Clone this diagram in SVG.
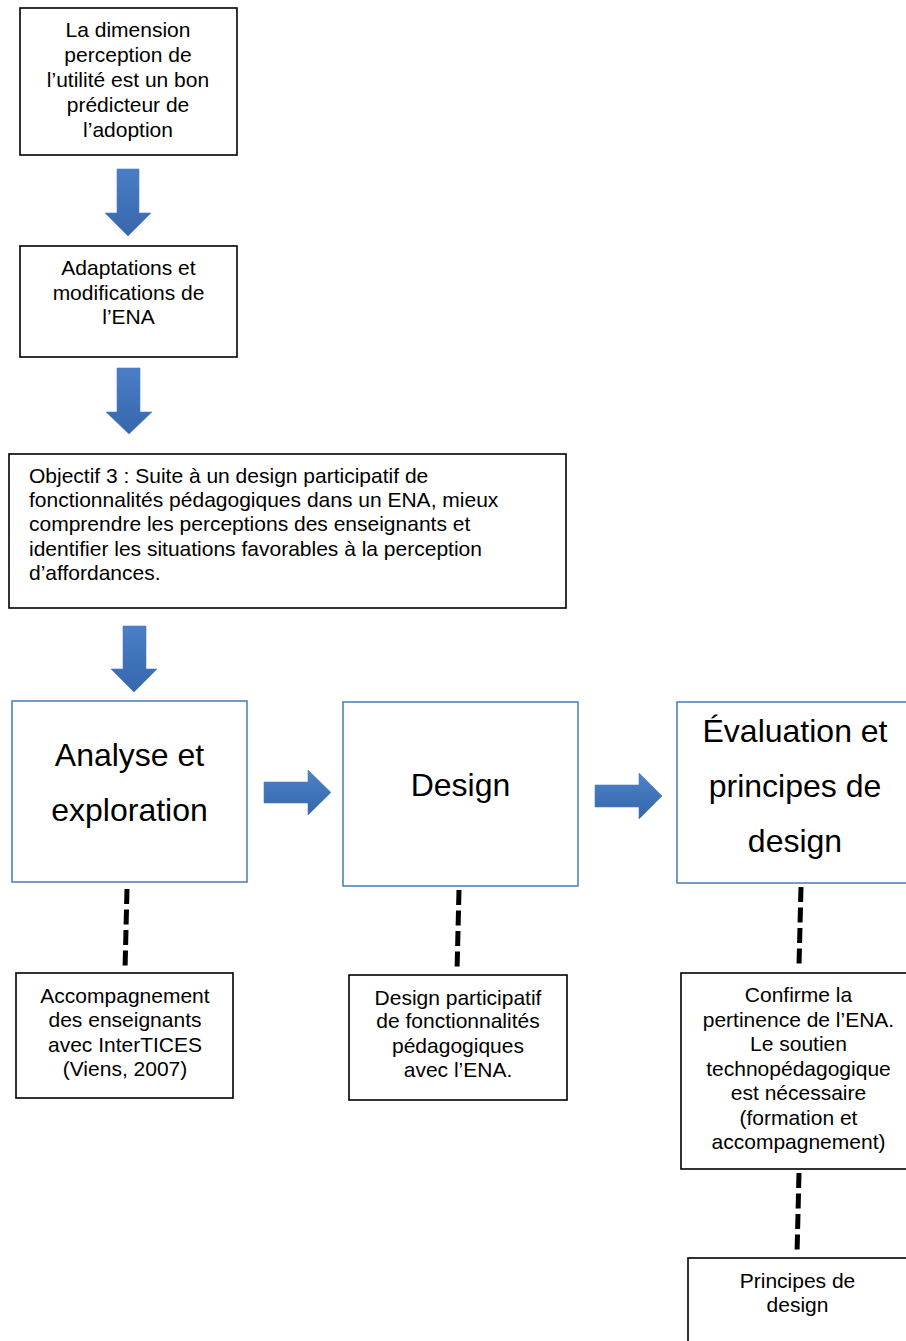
<svg xmlns="http://www.w3.org/2000/svg" width="906" height="1341" viewBox="0 0 906 1341">
  <defs>
    <style>
      text { font-family: "Liberation Sans", Arial, sans-serif; fill: #000; }
      .t21 { font-size: 21px; }
      .t32 { font-size: 32px; }
      .mid { text-anchor: middle; }
      .box { fill: #fff; stroke: #000; stroke-width: 1.6; }
      .stage { fill: #fff; stroke: #4F81BD; stroke-width: 1.6; }
      .arrowV { fill: url(#gradV); stroke: #4A7CC0; stroke-width: 0.6; }
      .arrowH { fill: url(#gradH); stroke: #4A7CC0; stroke-width: 0.6; }
      .dash { fill: none; stroke: #000; stroke-width: 5; stroke-dasharray: 15 5.5; }
    </style>
    <linearGradient id="gradV" x1="0" y1="0" x2="0" y2="1">
      <stop offset="0" stop-color="#4A7EC6"/>
      <stop offset="1" stop-color="#3767AD"/>
    </linearGradient>
    <linearGradient id="gradH" x1="0" y1="0" x2="0" y2="1">
      <stop offset="0" stop-color="#4E83CA"/>
      <stop offset="1" stop-color="#3565A9"/>
    </linearGradient>
  </defs>

  <!-- connectors: block arrows and dashed links -->
  <g id="connectors">
    <path class="arrowV" d="M117,169 H139 V213 H151 L128,236 L105,213 H117 Z"/>
    <path class="arrowV" d="M117,368 H140 V412 H152 L129,434 L106,412 H117 Z"/>
    <path class="arrowV" d="M123,626 H146 V669 H157 L134,692 L111,669 H123 Z"/>
    <path class="arrowH" d="M264,782 H308 V770 L331,792.5 L308,815 V803 H264 Z"/>
    <path class="arrowH" d="M595,785 H639 V773 L662,796 L639,819 V807 H595 Z"/>
    <path class="dash" d="M127,889 L125,970"/>
    <path class="dash" d="M459,890 L457,972"/>
    <path class="dash" d="M801,887 L799,966"/>
    <path class="dash" d="M799,1173 L797,1255"/>
  </g>

  <g id="node-perception">
    <rect class="box" x="20" y="8" width="217" height="147"/>
    <text class="t21 mid" x="128" y="37">La dimension</text>
    <text class="t21 mid" x="128" y="62">perception de</text>
    <text class="t21 mid" x="128" y="87">l’utilité est un bon</text>
    <text class="t21 mid" x="128" y="112">prédicteur de</text>
    <text class="t21 mid" x="128" y="137">l’adoption</text>
  </g>

  <g id="node-adaptations">
    <rect class="box" x="20" y="246" width="217" height="111"/>
    <text class="t21 mid" x="128.5" y="275">Adaptations et</text>
    <text class="t21 mid" x="128.5" y="300">modifications de</text>
    <text class="t21 mid" x="128.5" y="324">l’ENA</text>
  </g>

  <g id="node-objectif">
    <rect class="box" x="9" y="454" width="557" height="154"/>
    <text class="t21" x="29" y="483">Objectif 3 : Suite à un design participatif de</text>
    <text class="t21" x="29" y="507">fonctionnalités pédagogiques dans un ENA, mieux</text>
    <text class="t21" x="29" y="531">comprendre les perceptions des enseignants et</text>
    <text class="t21" x="29" y="556">identifier les situations favorables à la perception</text>
    <text class="t21" x="29" y="580">d’affordances.</text>
  </g>

  <g id="node-analyse">
    <rect class="stage" x="12" y="701" width="235" height="181"/>
    <text class="t32 mid" x="129.5" y="766">Analyse et</text>
    <text class="t32 mid" x="129.5" y="821">exploration</text>
  </g>

  <g id="node-design">
    <rect class="stage" x="343" y="702" width="235" height="184"/>
    <text class="t32 mid" x="460.5" y="796">Design</text>
  </g>

  <g id="node-evaluation">
    <rect class="stage" x="677" y="702" width="235" height="181"/>
    <text class="t32 mid" x="795" y="742">Évaluation et</text>
    <text class="t32 mid" x="795" y="797">principes de</text>
    <text class="t32 mid" x="795" y="852">design</text>
  </g>

  <g id="node-accompagnement">
    <rect class="box" x="16" y="973" width="217" height="125"/>
    <text class="t21 mid" x="125" y="1003">Accompagnement</text>
    <text class="t21 mid" x="125" y="1027">des enseignants</text>
    <text class="t21 mid" x="125" y="1052">avec InterTICES</text>
    <text class="t21 mid" x="125" y="1076">(Viens, 2007)</text>
  </g>

  <g id="node-design-participatif">
    <rect class="box" x="349" y="975" width="218" height="125"/>
    <text class="t21 mid" x="458" y="1005">Design participatif</text>
    <text class="t21 mid" x="458" y="1028">de fonctionnalités</text>
    <text class="t21 mid" x="458" y="1053">pédagogiques</text>
    <text class="t21 mid" x="458" y="1077">avec l’ENA.</text>
  </g>

  <g id="node-confirme">
    <rect class="box" x="681" y="973" width="235" height="196"/>
    <text class="t21 mid" x="798.5" y="1002">Confirme la</text>
    <text class="t21 mid" x="798.5" y="1027">pertinence de l’ENA.</text>
    <text class="t21 mid" x="798.5" y="1051">Le soutien</text>
    <text class="t21 mid" x="798.5" y="1076">technopédagogique</text>
    <text class="t21 mid" x="798.5" y="1100">est nécessaire</text>
    <text class="t21 mid" x="798.5" y="1125">(formation et</text>
    <text class="t21 mid" x="798.5" y="1149">accompagnement)</text>
  </g>

  <g id="node-principes">
    <rect class="box" x="688" y="1258" width="235" height="100"/>
    <text class="t21 mid" x="797.5" y="1288">Principes de</text>
    <text class="t21 mid" x="797.5" y="1312">design</text>
  </g>
</svg>
